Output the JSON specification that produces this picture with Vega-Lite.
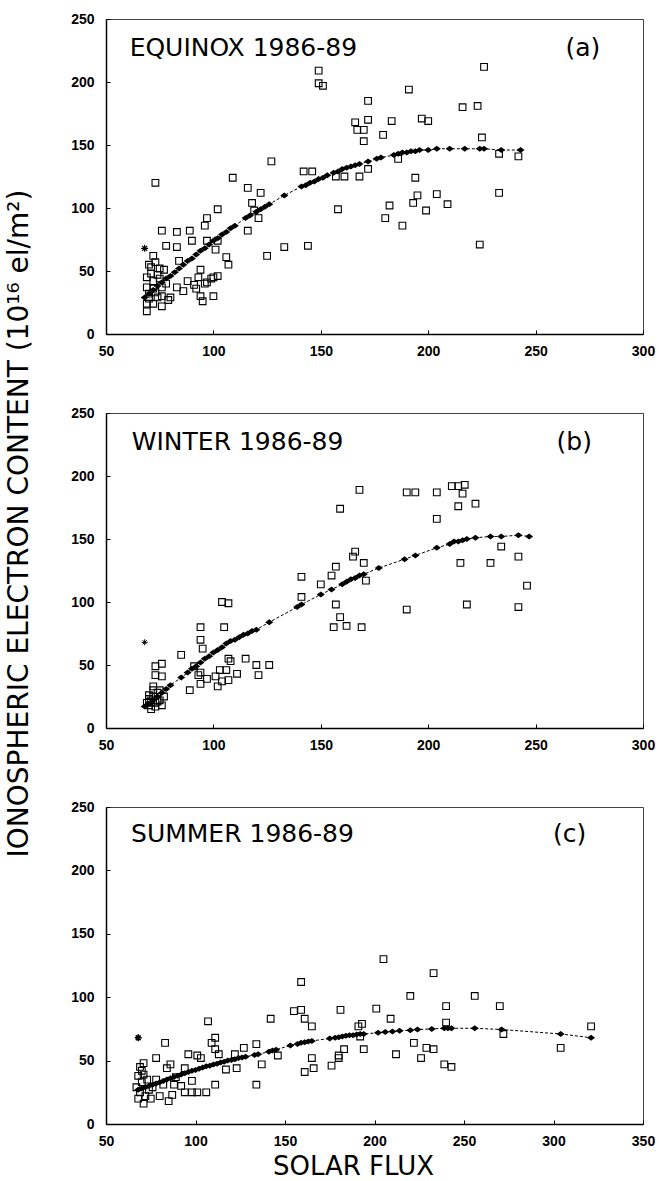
{
  "$schema": "https://vega.github.io/schema/vega-lite/v6.json",
  "padding": {"left": 4, "top": 11, "right": 0, "bottom": 0},
  "background": "white",
  "spacing": 79,
  "bounds": "flush",
  "resolve": {"scale": {"x": "independent", "y": "independent"}},
  "config": {
    "view": {"stroke": "#444", "strokeWidth": 1},
    "axis": {"domainColor": "black", "domainWidth": 1.5, "tickColor": "black", "tickSize": -4, "tickWidth": 1, "grid": false,
      "labelFont": "Liberation Sans", "labelFontWeight": "bold", "labelFontSize": 14, "labelColor": "black", "labelFlush": false,
      "titleFont": "DejaVu Sans", "titleFontWeight": "normal", "titleColor": "black"},
    "axisX": {"labelPadding": 14},
    "axisY": {"labelPadding": 16}
  },
  "datasets": {
    "star": [{"x": 68, "y": 68}],
    "eqObs": [
      {"x":73,"y":120},{"x":109,"y":124},{"x":127,"y":137},{"x":142,"y":129},{"x":146,"y":129},{"x":116,"y":116},{"x":122,"y":112},
      {"x":118,"y":104},{"x":119,"y":98},{"x":121,"y":92},{"x":116,"y":82},{"x":102,"y":99},{"x":97,"y":92},{"x":96,"y":86},
      {"x":76,"y":82},{"x":83,"y":81},{"x":89,"y":82},{"x":90,"y":74},{"x":78,"y":70},{"x":83,"y":69},{"x":97,"y":74},{"x":101,"y":67},
      {"x":102,"y":74},{"x":72,"y":62},{"x":84,"y":58},{"x":106,"y":61},{"x":107,"y":55},{"x":125,"y":62},{"x":133,"y":69},{"x":144,"y":70},
      {"x":94,"y":51},{"x":93,"y":45},{"x":100,"y":45},{"x":97,"y":41},{"x":91,"y":39},{"x":88,"y":42},{"x":83,"y":37},{"x":80,"y":29},
      {"x":94,"y":30},{"x":100,"y":30},{"x":95,"y":26},{"x":99,"y":44},{"x":102,"y":46},{"x":77,"y":51},{"x":71,"y":53},{"x":74,"y":47},
      {"x":69,"y":45},{"x":72,"y":42},{"x":69,"y":37},{"x":76,"y":37},{"x":70,"y":32},{"x":74,"y":29},{"x":69,"y":24},{"x":72,"y":24},
      {"x":76,"y":22},{"x":69,"y":18},{"x":70,"y":28},{"x":73,"y":33},{"x":76,"y":30},{"x":79,"y":27},{"x":70,"y":55},{"x":73,"y":57},
      {"x":71,"y":48},{"x":75,"y":52},{"x":78,"y":40},{"x":72,"y":36},{"x":75,"y":44},{"x":86,"y":34},{"x":92,"y":36},{"x":96,"y":40},
      {"x":149,"y":209},{"x":149,"y":199},{"x":151,"y":197},{"x":226,"y":212},{"x":191,"y":194},{"x":172,"y":185},{"x":216,"y":180},
      {"x":223,"y":181},{"x":197,"y":171},{"x":200,"y":169},{"x":183,"y":169},{"x":172,"y":170},{"x":166,"y":168},{"x":167,"y":162},
      {"x":170,"y":162},{"x":170,"y":153},{"x":179,"y":158},{"x":225,"y":156},{"x":172,"y":131},{"x":161,"y":125},{"x":168,"y":125},
      {"x":157,"y":125},{"x":186,"y":139},{"x":242,"y":141},{"x":233,"y":143},{"x":194,"y":124},{"x":195,"y":110},{"x":204,"y":111},
      {"x":193,"y":104},{"x":209,"y":103},{"x":199,"y":98},{"x":182,"y":102},{"x":180,"y":92},{"x":188,"y":86},{"x":233,"y":112},
      {"x":158,"y":99},{"x":224,"y":71}
    ],
    "eqFit": [
      {"x":68,"y":29},{"x":70,"y":32},{"x":72,"y":35},{"x":74,"y":38},{"x":76,"y":41},{"x":78,"y":44},{"x":80,"y":46},{"x":82,"y":49},
      {"x":84,"y":52},{"x":86,"y":55},{"x":88,"y":58},{"x":90,"y":60},{"x":92,"y":63},{"x":94,"y":66},{"x":96,"y":68},{"x":98,"y":71},
      {"x":100,"y":74},{"x":102,"y":76},{"x":104,"y":79},{"x":106,"y":81},{"x":108,"y":84},{"x":110,"y":86},{"x":115,"y":92},{"x":117,"y":94},
      {"x":120,"y":97},{"x":122,"y":99},{"x":124,"y":101},{"x":126,"y":103},{"x":133,"y":110},{"x":141,"y":117},{"x":143,"y":118},
      {"x":145,"y":120},{"x":147,"y":121},{"x":149,"y":123},{"x":151,"y":124},{"x":153,"y":126},{"x":156,"y":128},{"x":158,"y":129},
      {"x":160,"y":131},{"x":162,"y":132},{"x":164,"y":133},{"x":166,"y":134},{"x":168,"y":135},{"x":172,"y":137},{"x":176,"y":139},
      {"x":178,"y":140},{"x":184,"y":142},{"x":186,"y":143},{"x":188,"y":144},{"x":190,"y":144},{"x":192,"y":145},{"x":194,"y":145},
      {"x":196,"y":146},{"x":200,"y":146},{"x":204,"y":147},{"x":210,"y":147},{"x":217,"y":147},{"x":224,"y":147},{"x":226,"y":147},
      {"x":234,"y":146},{"x":243,"y":146}
    ],
    "wiObs": [
      {"x":141,"y":120},{"x":150,"y":114},{"x":155,"y":121},{"x":107,"y":99},{"x":104,"y":100},{"x":94,"y":80},{"x":105,"y":80},
      {"x":94,"y":70},{"x":95,"y":63},{"x":141,"y":104},{"x":85,"y":58},{"x":76,"y":51},{"x":73,"y":49},{"x":73,"y":42},{"x":76,"y":41},
      {"x":91,"y":49},{"x":97,"y":39},{"x":93,"y":42},{"x":89,"y":30},{"x":94,"y":35},{"x":94,"y":44},{"x":107,"y":55},{"x":108,"y":53},
      {"x":115,"y":55},{"x":120,"y":50},{"x":121,"y":42},{"x":126,"y":50},{"x":111,"y":43},{"x":103,"y":46},{"x":106,"y":46},{"x":102,"y":33},
      {"x":104,"y":37},{"x":107,"y":38},{"x":101,"y":41},
      {"x":70,"y":18},{"x":71,"y":22},{"x":72,"y":25},{"x":73,"y":20},{"x":74,"y":28},{"x":72,"y":30},{"x":70,"y":26},{"x":75,"y":22},
      {"x":76,"y":18},{"x":71,"y":15},{"x":73,"y":17},{"x":74,"y":21},{"x":77,"y":25},{"x":69,"y":20},{"x":72,"y":33},{"x":70,"y":23},{"x":75,"y":30},
      {"x":168,"y":189},{"x":190,"y":187},{"x":194,"y":187},{"x":204,"y":187},{"x":211,"y":192},{"x":214,"y":192},{"x":217,"y":193},
      {"x":216,"y":186},{"x":214,"y":176},{"x":222,"y":178},{"x":159,"y":174},{"x":204,"y":166},{"x":166,"y":140},{"x":165,"y":136},
      {"x":170,"y":131},{"x":157,"y":128},{"x":171,"y":117},{"x":215,"y":131},{"x":229,"y":131},{"x":234,"y":144},{"x":242,"y":136},
      {"x":246,"y":113},{"x":157,"y":98},{"x":190,"y":94},{"x":218,"y":98},{"x":242,"y":96},{"x":159,"y":88},{"x":156,"y":80},
      {"x":162,"y":81},{"x":169,"y":80}
    ],
    "wiFit": [
      {"x":68,"y":17},{"x":70,"y":19},{"x":72,"y":22},{"x":74,"y":25},{"x":76,"y":28},{"x":78,"y":31},{"x":80,"y":34},{"x":85,"y":40},
      {"x":88,"y":44},{"x":90,"y":47},{"x":92,"y":49},{"x":94,"y":52},{"x":96,"y":55},{"x":98,"y":57},{"x":100,"y":60},{"x":102,"y":62},
      {"x":104,"y":64},{"x":106,"y":67},{"x":108,"y":69},{"x":110,"y":70},{"x":112,"y":72},{"x":114,"y":74},{"x":116,"y":75},{"x":118,"y":77},
      {"x":120,"y":78},{"x":126,"y":84},{"x":139,"y":96},{"x":141,"y":98},{"x":150,"y":106},{"x":155,"y":110},{"x":160,"y":114},
      {"x":162,"y":116},{"x":164,"y":118},{"x":166,"y":119},{"x":168,"y":121},{"x":170,"y":122},{"x":177,"y":127},{"x":189,"y":134},
      {"x":194,"y":137},{"x":204,"y":143},{"x":210,"y":146},{"x":212,"y":148},{"x":214,"y":148},{"x":216,"y":149},{"x":218,"y":150},
      {"x":222,"y":151},{"x":229,"y":152},{"x":234,"y":152},{"x":242,"y":153},{"x":247,"y":152}
    ],
    "suObs": [
      {"x":205,"y":130},{"x":159,"y":112},{"x":155,"y":89},{"x":159,"y":90},{"x":161,"y":83},{"x":165,"y":77},{"x":181,"y":90},
      {"x":201,"y":91},{"x":209,"y":83},{"x":191,"y":77},{"x":193,"y":79},{"x":107,"y":81},{"x":142,"y":83},{"x":83,"y":64},
      {"x":111,"y":68},{"x":109,"y":64},{"x":111,"y":59},{"x":134,"y":63},{"x":127,"y":60},{"x":122,"y":55},{"x":113,"y":55},
      {"x":101,"y":54},{"x":96,"y":55},{"x":103,"y":52},{"x":78,"y":52},{"x":71,"y":48},{"x":86,"y":47},{"x":94,"y":44},{"x":84,"y":44},
      {"x":117,"y":43},{"x":123,"y":44},{"x":137,"y":47},{"x":146,"y":54},{"x":111,"y":31},{"x":134,"y":31},{"x":165,"y":52},
      {"x":166,"y":44},{"x":161,"y":41},{"x":176,"y":46},{"x":180,"y":54},{"x":183,"y":59},{"x":194,"y":59},{"x":192,"y":69},{"x":212,"y":55},
      {"x":92,"y":30},{"x":94,"y":25},{"x":85,"y":18},{"x":87,"y":23},{"x":82,"y":31},{"x":76,"y":29},{"x":80,"y":22},{"x":71,"y":16},
      {"x":71,"y":39},{"x":68,"y":38},{"x":67,"y":29},{"x":98,"y":25},{"x":101,"y":25},{"x":106,"y":25},{"x":89,"y":37},{"x":88,"y":31},
      {"x":98,"y":34},{"x":68,"y":20},{"x":69,"y":25},{"x":70,"y":33},{"x":72,"y":22},{"x":74,"y":27},{"x":73,"y":35},{"x":70,"y":42},
      {"x":69,"y":45},{"x":75,"y":20},{"x":78,"y":35},
      {"x":233,"y":119},{"x":220,"y":101},{"x":256,"y":101},{"x":240,"y":93},{"x":270,"y":93},{"x":240,"y":80},{"x":321,"y":77},
      {"x":272,"y":71},{"x":304,"y":60},{"x":222,"y":64},{"x":229,"y":60},{"x":233,"y":59},{"x":226,"y":52},{"x":239,"y":47},
      {"x":243,"y":45},{"x":180,"y":52}
    ],
    "suFit": [
      {"x":68,"y":27},{"x":70,"y":28},{"x":72,"y":29},{"x":74,"y":30},{"x":76,"y":31},{"x":78,"y":32},{"x":80,"y":33},{"x":82,"y":34},
      {"x":84,"y":35},{"x":86,"y":36},{"x":88,"y":37},{"x":90,"y":38},{"x":92,"y":39},{"x":94,"y":40},{"x":96,"y":41},{"x":98,"y":42},
      {"x":100,"y":42.5},{"x":102,"y":43.5},{"x":104,"y":44.5},{"x":106,"y":45.5},{"x":108,"y":46},{"x":110,"y":47},{"x":112,"y":47.5},
      {"x":114,"y":48.5},{"x":116,"y":49},{"x":118,"y":50},{"x":120,"y":50.5},{"x":122,"y":51},{"x":124,"y":52},{"x":126,"y":52.5},
      {"x":128,"y":53},{"x":133,"y":54.5},{"x":135,"y":55},{"x":141,"y":57},{"x":143,"y":58},{"x":145,"y":58.5},{"x":153,"y":62},
      {"x":157,"y":63},{"x":159,"y":64},{"x":161,"y":64.5},{"x":163,"y":65},{"x":165,"y":65.5},{"x":175,"y":67.5},{"x":178,"y":68},
      {"x":180,"y":68.5},{"x":182,"y":69},{"x":184,"y":69.5},{"x":186,"y":70},{"x":188,"y":70},{"x":190,"y":70.5},{"x":192,"y":71},
      {"x":194,"y":71},{"x":202,"y":72},{"x":206,"y":72.5},{"x":210,"y":73},{"x":214,"y":73.5},{"x":220,"y":74},{"x":224,"y":74.5},
      {"x":232,"y":75},{"x":239,"y":75.5},{"x":241,"y":75.5},{"x":243,"y":75.5},{"x":256,"y":75.5},{"x":271,"y":74.5},{"x":304,"y":71},
      {"x":321,"y":68}
    ]
  },
  "vconcat": [
    {
      "width": 537, "height": 315,
      "layer": [
        {"data": {"name": "eqObs"}, "mark": {"type": "point", "shape": "square", "size": 45, "filled": false, "color": "black", "strokeWidth": 1.1, "opacity": 1},
         "encoding": {
           "x": {"field": "x", "type": "quantitative", "scale": {"domain": [50, 300], "nice": false, "zero": false}, "axis": {"values": [50, 100, 150, 200, 250, 300], "title": null}},
           "y": {"field": "y", "type": "quantitative", "scale": {"domain": [0, 250], "nice": false}, "axis": {"values": [0, 50, 100, 150, 200, 250], "title": null}}}},
        {"data": {"name": "eqFit"}, "mark": {"type": "line", "color": "black", "strokeWidth": 1, "strokeDash": [3, 2]},
         "encoding": {"x": {"field": "x", "type": "quantitative"}, "y": {"field": "y", "type": "quantitative"}}},
        {"data": {"name": "eqFit"}, "mark": {"type": "point", "shape": "M-1,0L0,-0.75L1,0L0,0.75Z", "size": 64, "filled": true, "color": "black", "opacity": 1},
         "encoding": {"x": {"field": "x", "type": "quantitative"}, "y": {"field": "y", "type": "quantitative"}}},
        {"data": {"name": "star"}, "mark": {"type": "point", "shape": "M-1,0L1,0M0,-1L0,1M-0.7,-0.7L0.7,0.7M-0.7,0.7L0.7,-0.7", "size": 49, "filled": false, "color": "black", "strokeWidth": 1.2, "opacity": 1},
         "encoding": {"x": {"field": "x", "type": "quantitative"}, "y": {"field": "y", "type": "quantitative"}}},
        {"data": {"values": [{}]}, "mark": {"type": "text", "align": "left", "baseline": "middle", "fontSize": 25, "font": "DejaVu Sans", "color": "black"},
         "encoding": {"x": {"datum": 61, "type": "quantitative"}, "y": {"datum": 227, "type": "quantitative"}, "text": {"value": "EQUINOX 1986-89"}}},
        {"data": {"values": [{}]}, "mark": {"type": "text", "align": "center", "baseline": "middle", "fontSize": 25, "font": "DejaVu Sans", "color": "black"},
         "encoding": {"x": {"datum": 272, "type": "quantitative"}, "y": {"datum": 227, "type": "quantitative"}, "text": {"value": "(a)"}}}
      ]
    },
    {
      "width": 537, "height": 315,
      "layer": [
        {"data": {"name": "wiObs"}, "mark": {"type": "point", "shape": "square", "size": 45, "filled": false, "color": "black", "strokeWidth": 1.1, "opacity": 1},
         "encoding": {
           "x": {"field": "x", "type": "quantitative", "scale": {"domain": [50, 300], "nice": false, "zero": false}, "axis": {"values": [50, 100, 150, 200, 250, 300], "title": null}},
           "y": {"field": "y", "type": "quantitative", "scale": {"domain": [0, 250], "nice": false},
                 "axis": {"values": [0, 50, 100, 150, 200, 250], "title": "IONOSPHERIC  ELECTRON  CONTENT  (10¹⁶ el/m²)", "titleFontSize": 28, "titleX": -87, "titleY": 110, "titleBaseline": "middle", "titleAlign": "center", "titleAngle": -90}}}},
        {"data": {"name": "wiFit"}, "mark": {"type": "line", "color": "black", "strokeWidth": 1, "strokeDash": [3, 2]},
         "encoding": {"x": {"field": "x", "type": "quantitative"}, "y": {"field": "y", "type": "quantitative"}}},
        {"data": {"name": "wiFit"}, "mark": {"type": "point", "shape": "M-1,0L0,-0.75L1,0L0,0.75Z", "size": 64, "filled": true, "color": "black", "opacity": 1},
         "encoding": {"x": {"field": "x", "type": "quantitative"}, "y": {"field": "y", "type": "quantitative"}}},
        {"data": {"name": "star"}, "mark": {"type": "point", "shape": "M-1,0L1,0M0,-1L0,1M-0.7,-0.7L0.7,0.7M-0.7,0.7L0.7,-0.7", "size": 36, "filled": false, "color": "black", "strokeWidth": 1, "opacity": 1},
         "encoding": {"x": {"field": "x", "type": "quantitative"}, "y": {"field": "y", "type": "quantitative"}}},
        {"data": {"values": [{}]}, "mark": {"type": "text", "align": "left", "baseline": "middle", "fontSize": 25, "font": "DejaVu Sans", "color": "black"},
         "encoding": {"x": {"datum": 62, "type": "quantitative"}, "y": {"datum": 227, "type": "quantitative"}, "text": {"value": "WINTER 1986-89"}}},
        {"data": {"values": [{}]}, "mark": {"type": "text", "align": "center", "baseline": "middle", "fontSize": 25, "font": "DejaVu Sans", "color": "black"},
         "encoding": {"x": {"datum": 268, "type": "quantitative"}, "y": {"datum": 227, "type": "quantitative"}, "text": {"value": "(b)"}}}
      ]
    },
    {
      "width": 537, "height": 317,
      "layer": [
        {"data": {"name": "suObs"}, "mark": {"type": "point", "shape": "square", "size": 45, "filled": false, "color": "black", "strokeWidth": 1.1, "opacity": 1},
         "encoding": {
           "x": {"field": "x", "type": "quantitative", "scale": {"domain": [50, 350], "nice": false, "zero": false},
                 "axis": {"values": [50, 100, 150, 200, 250, 300, 350], "title": "SOLAR FLUX", "titleFontSize": 26, "titleX": 247, "titleY": 42, "titleBaseline": "middle", "titleAlign": "center"}},
           "y": {"field": "y", "type": "quantitative", "scale": {"domain": [0, 250], "nice": false}, "axis": {"values": [0, 50, 100, 150, 200, 250], "title": null}}}},
        {"data": {"name": "suFit"}, "mark": {"type": "line", "color": "black", "strokeWidth": 1, "strokeDash": [3, 2]},
         "encoding": {"x": {"field": "x", "type": "quantitative"}, "y": {"field": "y", "type": "quantitative"}}},
        {"data": {"name": "suFit"}, "mark": {"type": "point", "shape": "M-1,0L0,-0.75L1,0L0,0.75Z", "size": 64, "filled": true, "color": "black", "opacity": 1},
         "encoding": {"x": {"field": "x", "type": "quantitative"}, "y": {"field": "y", "type": "quantitative"}}},
        {"data": {"name": "star"}, "mark": {"type": "point", "shape": "M-1,0L1,0M0,-1L0,1M-0.7,-0.7L0.7,0.7M-0.7,0.7L0.7,-0.7", "size": 49, "filled": false, "color": "black", "strokeWidth": 1.6, "opacity": 1},
         "encoding": {"x": {"field": "x", "type": "quantitative"}, "y": {"field": "y", "type": "quantitative"}}},
        {"data": {"values": [{}]}, "mark": {"type": "text", "align": "left", "baseline": "middle", "fontSize": 25, "font": "DejaVu Sans", "color": "black"},
         "encoding": {"x": {"datum": 64, "type": "quantitative"}, "y": {"datum": 229, "type": "quantitative"}, "text": {"value": "SUMMER 1986-89"}}},
        {"data": {"values": [{}]}, "mark": {"type": "text", "align": "center", "baseline": "middle", "fontSize": 25, "font": "DejaVu Sans", "color": "black"},
         "encoding": {"x": {"datum": 309, "type": "quantitative"}, "y": {"datum": 229, "type": "quantitative"}, "text": {"value": "(c)"}}}
      ]
    }
  ]
}
